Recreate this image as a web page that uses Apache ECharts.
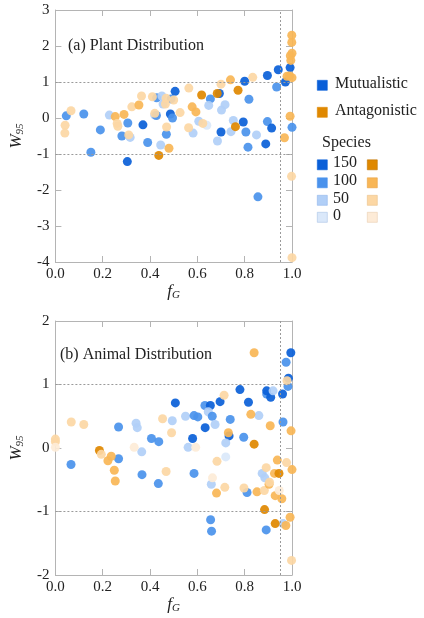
<!DOCTYPE html>
<html>
<head>
<meta charset="utf-8">
<script src="https://cdn.jsdelivr.net/npm/echarts@6/dist/echarts.min.js"></script>
<style>
html,body{margin:0;padding:0;background:#fff;}
#chart{width:424px;height:618px;}
</style>
</head>
<body>
<div id="chart"></div>
<script>
// ---- Data: [f_G, W95, species] ----
var plantMutualistic = [
  [0.046,0.06,100],[0.12,0.11,100],[0.19,-0.33,100],[0.228,0.08,50],[0.306,-0.14,100],
  [0.281,-0.50,100],[0.316,-0.54,50],[0.37,-0.19,150],[0.39,-0.68,100],[0.42,0.08,50],
  [0.427,0.07,100],[0.428,0.56,100],[0.45,0.61,50],[0.455,0.39,50],[0.469,-0.45,100],
  [0.445,-0.75,50],[0.489,0.53,100],[0.506,0.74,150],[0.486,0.11,150],[0.495,0.0,100],
  [0.582,-0.42,50],[0.606,-0.09,50],[0.64,-0.20,0],[0.655,0.53,100],[0.648,0.35,50],
  [0.685,-0.64,50],[0.693,0.68,150],[0.702,0.22,50],[0.717,0.37,50],[0.70,-0.39,150],
  [0.752,-0.07,50],[0.742,-0.38,50],[0.80,1.02,150],[0.794,-0.11,150],[0.805,-0.39,100],
  [0.818,0.52,100],[0.814,-0.81,100],[0.85,-0.47,50],[0.896,1.18,150],[0.896,-0.10,100],
  [0.914,-0.28,150],[0.889,-0.72,150],[0.856,-2.19,100],[0.935,0.86,100],[0.942,1.34,150],
  [0.972,1.00,150],[0.992,1.40,150],[1.0,-0.26,100],[0.15,-0.95,100],[0.304,-1.21,150]
];
var plantAntagonistic = [
  [0.066,0.20,50],[0.041,-0.20,50],[0.040,-0.42,50],[0.253,0.04,100],[0.261,-0.15,50],
  [0.264,-0.23,50],[0.29,0.10,100],[0.31,-0.47,50],[0.323,0.31,50],[0.353,0.36,100],
  [0.364,0.61,50],[0.41,0.59,50],[0.42,0.13,50],[0.465,0.39,50],[0.468,0.55,50],
  [0.47,-0.25,50],[0.50,0.50,50],[0.48,-0.84,100],[0.437,-1.04,150],[0.527,0.15,50],
  [0.564,0.83,50],[0.563,-0.27,50],[0.578,0.31,100],[0.594,0.17,100],[0.623,-0.15,50],
  [0.618,0.64,150],[0.70,0.94,50],[0.684,0.68,150],[0.74,1.06,100],[0.761,-0.24,150],
  [0.772,0.77,150],[0.834,1.13,50],[0.968,-0.55,100],[0.992,0.05,100],[0.999,2.30,100],
  [0.999,2.10,100],[1.0,1.80,100],[0.993,1.73,100],[0.995,1.60,100],[0.979,1.16,100],
  [0.99,1.17,100],[1.0,1.12,100],[0.998,-1.62,50],[1.0,-3.88,50]
];
var animalMutualistic = [
  [0.066,-0.26,100],[0.267,0.33,100],[0.267,-0.17,100],[0.341,0.39,50],[0.346,0.32,50],
  [0.365,-0.06,50],[0.366,-0.42,100],[0.406,0.15,100],[0.437,0.10,100],[0.435,-0.56,100],
  [0.494,0.43,50],[0.507,0.71,150],[0.55,0.50,50],[0.561,0.01,50],[0.58,0.15,150],
  [0.586,0.51,100],[0.602,0.49,100],[0.586,-0.40,100],[0.633,0.32,150],[0.632,0.67,100],
  [0.655,0.67,150],[0.646,0.57,50],[0.663,0.50,100],[0.675,0.37,50],[0.696,0.73,150],
  [0.739,0.45,100],[0.734,0.19,150],[0.72,0.08,50],[0.72,-0.14,0],[0.78,0.92,150],
  [0.796,0.17,100],[0.816,0.72,150],[0.86,0.51,50],[0.659,-0.57,50],[0.656,-1.13,100],
  [0.66,-1.31,100],[0.81,-0.70,100],[0.874,-0.40,50],[0.885,-0.47,50],[0.891,-1.29,100],
  [0.962,-1.19,50],[0.893,0.85,100],[0.893,0.90,150],[0.91,0.80,150],[0.92,0.90,50],
  [0.96,0.85,150],[0.962,0.41,100],[0.975,1.35,100],[0.995,1.50,150],[0.985,1.10,150],
  [0.983,0.97,100]
];
var animalAntagonistic = [
  [0.0,0.14,50],[0.0,0.10,50],[0.0,0.01,0],[0.067,0.41,50],[0.12,0.37,50],
  [0.333,0.01,0],[0.453,0.46,50],[0.491,0.24,50],[0.593,0.01,0],[0.713,0.83,50],
  [0.731,0.24,100],[0.826,0.53,100],[0.84,1.50,100],[0.84,0.06,150],[0.908,0.35,100],
  [0.979,1.06,50],[0.996,0.27,100],[0.186,-0.04,150],[0.194,-0.10,50],[0.222,-0.20,100],
  [0.236,-0.13,100],[0.249,-0.35,100],[0.253,-0.52,100],[0.468,-0.37,50],[0.664,-0.47,0],
  [0.681,-0.71,100],[0.683,-0.21,50],[0.716,-0.62,50],[0.797,-0.63,50],[0.852,-0.69,100],
  [0.884,-0.97,150],[0.929,-1.19,150],[0.891,-0.31,50],[0.883,-0.67,50],[0.903,-0.57,100],
  [0.905,-0.54,50],[0.926,-0.40,100],[0.945,-0.40,150],[0.929,-0.75,100],[0.946,-0.67,0],
  [0.957,-0.80,100],[0.938,-0.19,100],[0.977,-0.23,50],[1.0,-0.34,100],[0.974,-1.22,100],
  [0.992,-1.09,100],[0.998,-1.77,50]
];
var speciesLevels = [150, 100, 50, 0];
var panelTitles = ['(a) Plant Distribution', '(b) Animal Distribution'];
var yRanges = [[-4, 3], [-2, 2]];
var refLinesY = [1, -1];
var refLineX = 0.955;

// ---- Styles ----
var FONT = '"Liberation Serif","Times New Roman",serif';
var AX = '#b4b4b4';
var blueColors = {150:'#0a5fd8', 100:'#4a92ec', 50:'#b1cff7', 0:'#dae8fa'};
var orangeColors = {150:'#df8800', 100:'#f8b656', 50:'#fcd7a4', 0:'#fdebd7'};
var blueBorders = {150:'#0a5fd8', 100:'#4a92ec', 50:'#8fb6ea', 0:'#a9c3e6'};
var orangeBorders = {150:'#c07400', 100:'#e8a040', 50:'#e9bf86', 0:'#e8cdae'};

var grids = [
  {left:39, top:10, width:253, height:252, show:false},
  {left:39, top:321, width:253, height:254, show:false}
];

var xAxes = [], yAxes = [];
grids.forEach(function(g, i){
  var nameRich = {f:{fontFamily:FONT, fontStyle:'italic', fontSize:17, color:'#222'},
                  s:{fontFamily:FONT, fontStyle:'italic', fontSize:11, color:'#222', verticalAlign:'bottom', padding:[8,0,0,0]}};
  var lineX = {show:true, onZero:false, lineStyle:{color:AX}};
  var tick = {show:true, inside:true, length:6, lineStyle:{color:AX}};
  xAxes.push({gridIndex:i, type:'value', min:0, max:1, interval:0.2, position:'bottom',
    axisLine:lineX, axisTick:tick, splitLine:{show:false},
    axisLabel:{fontFamily:FONT, fontSize:15, color:'#222', margin:5, formatter:function(v){return v.toFixed(1);}},
    name:'{f|f}{s|G}', nameLocation:'middle', nameGap:19, nameTextStyle:{rich:nameRich}
  });
  xAxes.push({gridIndex:i, type:'value', min:0, max:1, interval:0.2, position:'top',
    axisLine:lineX, axisTick:tick, splitLine:{show:false}, axisLabel:{show:false}
  });
  var wRich = {w:{fontFamily:FONT, fontStyle:'italic', fontSize:17, color:'#222'},
               s:{fontFamily:FONT, fontStyle:'italic', fontSize:11, color:'#222', padding:[8,0,0,0]}};
  yAxes.push({gridIndex:i, type:'value', min:yRanges[i][0], max:yRanges[i][1], interval:1, position:'left',
    axisLine:lineX, axisTick:tick, splitLine:{show:false},
    axisLabel:{fontFamily:FONT, fontSize:15, color:'#222', margin:6},
    name:'{w|W}{s|95}', nameLocation:'middle', nameGap:17, nameRotate:90, nameTextStyle:{rich:wRich}
  });
  yAxes.push({gridIndex:i, type:'value', min:yRanges[i][0], max:yRanges[i][1], interval:1, position:'right',
    axisLine:lineX, axisTick:tick, splitLine:{show:false}, axisLabel:{show:false}
  });
});

function makeSeries(name, data, gi, colors, withLines){
  var s = {
    name:name, type:'scatter', xAxisIndex:gi*2, yAxisIndex:gi*2, data:data,
    symbol:'circle', symbolSize:9,
    itemStyle:{
      opacity:0.92,
      color:function(p){return colors[p.data[2]];}
    },
    emphasis:{disabled:true}
  };
  if (withLines){
    s.markLine = {silent:true, symbol:'none', label:{show:false},
      lineStyle:{type:[2,2], color:'#9a9a9a', width:1},
      data: refLinesY.map(function(v){return {yAxis:v};}).concat([{xAxis:refLineX}])
    };
  }
  return s;
}

var series = [
  makeSeries('Mutualistic', plantMutualistic, 0, blueColors, true),
  makeSeries('Antagonistic', plantAntagonistic, 0, orangeColors, false),
  makeSeries('Mutualistic', animalMutualistic, 1, blueColors, true),
  makeSeries('Antagonistic', animalAntagonistic, 1, orangeColors, false)
];

// ---- Legend (graphic) ----
var graphics = [];
function sq(x, y, c, b){
  graphics.push({type:'rect', left:x, top:y, shape:{width:10, height:10}, style:{fill:c, stroke:b, lineWidth:0.6}});
}
function txt(x, yMid, t, size){
  graphics.push({type:'text', left:x, top:yMid - size*0.6, style:{text:t, font:size+'px '+FONT, fill:'#222'}});
}
sq(317, 80, blueColors[150], blueColors[150]); txt(335, 85, 'Mutualistic', 16);
sq(317, 107, orangeColors[150], orangeColors[150]); txt(335, 112, 'Antagonistic', 16);
txt(322, 144, 'Species', 16);
var rowY = [164.5, 182.5, 200, 217];
speciesLevels.forEach(function(lv, k){
  sq(317, rowY[k]-5, blueColors[lv], blueBorders[lv]);
  txt(333, rowY[k], String(lv), 16);
  sq(367, rowY[k]-5, orangeColors[lv], orangeBorders[lv]);
});

var option = {
  backgroundColor:'#fff',
  animation:false,
  title: panelTitles.map(function(t, i){
    return {text:t, left: i===0 ? 63 : 55, top: i===0 ? 33 : 342,
      textStyle:{fontFamily:FONT, fontWeight:'normal', fontSize:16, color:'#222'}};
  }),
  grid:grids,
  xAxis:xAxes,
  yAxis:yAxes,
  series:series,
  graphic:graphics
};
var chart = echarts.init(document.getElementById('chart'), null, {renderer:'canvas'});
chart.setOption(option);
</script>
</body>
</html>
